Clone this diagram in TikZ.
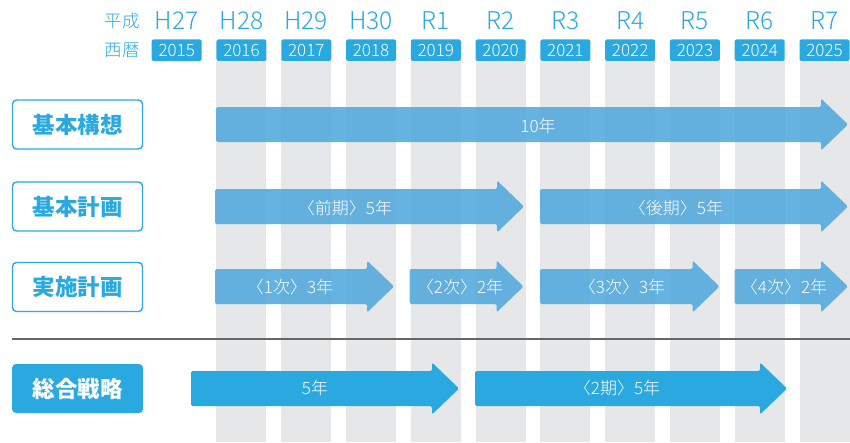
\documentclass[tikz,border=0pt]{standalone}
\usepackage{fontspec}
\setmainfont{Noto Sans CJK JP}
\newfontfamily\lightfont{Noto Sans CJK JP Light}
\definecolor{planblue}{RGB}{41,169,224}
\definecolor{barblue}{RGB}{85,170,222}
\definecolor{colgray}{RGB}{230,231,232}
\definecolor{rulegray}{RGB}{102,102,102}
\tikzset{
  era/.style={text=planblue,font=\lightfont\fontsize{24.5}{24.5}\selectfont,anchor=center},
  side/.style={text=planblue,font=\lightfont\fontsize{17.5}{17.5}\selectfont,anchor=center},
  yearbadge/.style={fill=planblue,rounded corners=2pt,minimum width=50pt,minimum height=21.5pt,inner sep=0pt,
    text=white,font=\lightfont\fontsize{17}{17}\selectfont},
  labelbox/.style={draw=planblue,line width=1.4pt,rounded corners=4pt,minimum width=130pt,minimum height=49pt,
    inner sep=0pt,text=planblue,font=\bfseries\fontsize{22.5}{22.5}\selectfont},
  labelfill/.style={fill=planblue,rounded corners=4pt,minimum width=131pt,minimum height=49pt,
    inner sep=0pt,text=white,font=\bfseries\fontsize{22.5}{22.5}\selectfont},
  plancol/.style={fill=colgray},
  softbar/.style={fill=barblue,fill opacity=0.9,rounded corners=1.5pt},
  solidbar/.style={fill=planblue,rounded corners=1.5pt},
  bartext/.style={text=white,font=\lightfont\fontsize{17}{17}\selectfont,anchor=center}
}
% block arrow: style, start x, tip x, centre y
\newcommand\timearrow[4]{%
  \path[#1] (#2,#4-17.5) -- (#3-27,#4-17.5) -- (#3-27,#4-26) -- (#3,#4)
    -- (#3-27,#4+26) -- (#3-27,#4+17.5) -- (#2,#4+17.5) -- cycle;}
\begin{document}
\begin{tikzpicture}[x=1pt,y=-1pt]
\useasboundingbox (0,0) rectangle (850,442);
% year columns
\foreach \i in {1,...,10}{
  \fill[plancol] ({151.7+64.78*\i},61) rectangle ({201.7+64.78*\i},442);
}
% header rows
\node[side] (heisei) at (122,21) {平成};
\node[side] (seireki) at (122,50) {西暦};
\foreach \era/\yr [count=\i from 0] in {H27/2015,H28/2016,H29/2017,H30/2018,R1/2019,R2/2020,R3/2021,R4/2022,R5/2023,R6/2024,R7/2025}{
  \node[era] (era\i) at ({176.7+64.78*\i},21) {\era};
  \node[yearbadge] (yr\i) at ({176.7+64.78*\i},50.2) {\yr};
}
% row labels
\node[labelbox] (kihonkoso) at (77.5,124.5) {基本構想};
\node[labelbox] (kihonkeikaku) at (77.5,206.5) {基本計画};
\node[labelbox] (jisshi) at (77.5,287) {実施計画};
\node[labelfill] (sogo) at (77.5,388.5) {総合戦略};
% separator
\draw[rulegray,line width=2pt] (12,339) -- (850,339);
% plan bars
\timearrow{softbar}{216}{848}{124.5}
\timearrow{softbar}{215}{524}{206.5}
\timearrow{softbar}{540}{848}{206.5}
\timearrow{softbar}{215}{394}{286.5}
\timearrow{softbar}{409.5}{523.5}{286.5}
\timearrow{softbar}{540}{719.5}{286.5}
\timearrow{softbar}{734.5}{848}{286.5}
\timearrow{solidbar}{191}{459}{388.5}
\timearrow{solidbar}{475}{787}{388.5}
% bar labels
\node[bartext] (t10) at (538,126) {10年};
\node[bartext] (tzenki) at (345,208) {〈前期〉5年};
\node[bartext] (tkoki) at (676,208) {〈後期〉5年};
\node[bartext] (t1) at (290,287) {〈1次〉3年};
\node[bartext] (t2) at (460,287) {〈2次〉2年};
\node[bartext] (t3) at (622,287) {〈3次〉3年};
\node[bartext] (t4) at (784,287) {〈4次〉2年};
\node[bartext] (t5) at (315,388) {5年};
\node[bartext] (t2ki) at (617,388) {〈2期〉5年};
\end{tikzpicture}
\end{document}
